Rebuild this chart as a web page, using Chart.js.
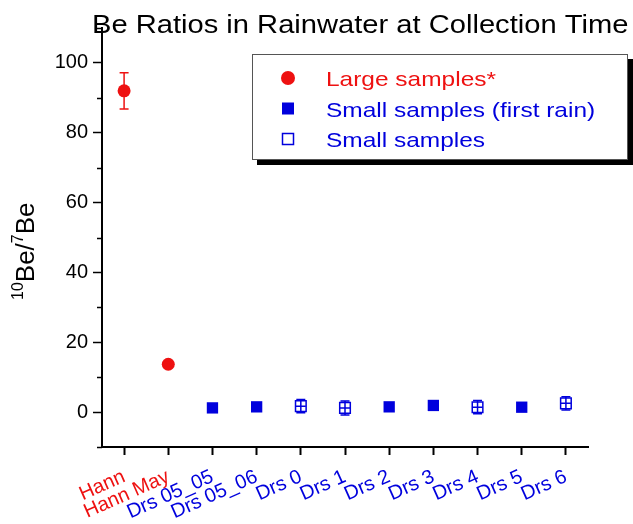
<!DOCTYPE html>
<html>
<head>
<meta charset="utf-8">
<script src="https://cdn.jsdelivr.net/npm/chart.js@4/dist/chart.umd.min.js"></script>
<style>
html, body { margin: 0; padding: 0; background: #fff; }
.caixa { width: 633px; height: 524px; }
</style>
</head>
<body>
<div class="caixa"><canvas id="grafico"></canvas></div>
<script>
// dados
const categorias = ['Hann', 'Hann May', 'Drs 05_05', 'Drs 05_06', 'Drs 0', 'Drs 1', 'Drs 2', 'Drs 3', 'Drs 4', 'Drs 5', 'Drs 6'];
const coresCategorias = ['#ee1111', '#ee1111', '#0000dd', '#0000dd', '#0000dd', '#0000dd', '#0000dd', '#0000dd', '#0000dd', '#0000dd', '#0000dd'];
const grandes = [92, 13.7, null, null, null, null, null, null, null, null, null];
const grandesErro = [5.2, 0.5, null, null, null, null, null, null, null, null, null];
const primeiraChuva = [null, null, 1.2, 1.5, null, null, 1.5, 1.9, null, 1.4, null];
const pequenas = [null, null, null, null, 1.7, 1.2, null, null, 1.4, null, 2.5];
const pequenasErro = [null, null, null, null, 1.9, 2.0, null, null, 1.9, null, 1.9];
const rotulosY = [0, 20, 40, 60, 80, 100];
const titulo = 'Be Ratios in Rainwater at Collection Time';

const VERMELHO = '#ee1111';
const AZUL = '#0000dd';
const FONTE = 'Arial, "Liberation Sans", sans-serif';
const ESTICA = 1.165;

Chart.defaults.font.family = FONTE;
Chart.defaults.color = '#000';

function textoEsticado(ctx, txt, x, y, tamanho, cor) {
    ctx.save();
    ctx.font = tamanho + 'px ' + FONTE;
    ctx.fillStyle = cor;
    ctx.textAlign = 'left';
    ctx.textBaseline = 'alphabetic';
    ctx.translate(x, y);
    ctx.scale(ESTICA, 1);
    ctx.fillText(txt, 0, 0);
    ctx.restore();
}

function marcador(ctx, estilo, x, y, cor, fundo) {
    ctx.save();
    ctx.fillStyle = fundo;
    ctx.strokeStyle = cor;
    ctx.lineWidth = 1.5;
    if (estilo == 'circle') {
        ctx.beginPath();
        ctx.arc(x, y, 7, 0, Math.PI * 2);
        ctx.fill();
    } else {
        ctx.fillRect(x - 6, y - 6, 12, 12);
        if (fundo == '#fff') ctx.strokeRect(x - 5.5, y - 5.5, 11, 11);
    }
    ctx.restore();
}

const extras = {
    id: 'extras',
    afterDatasetsDraw(chart) {
        const ctx = chart.ctx;
        const ex = chart.scales.x, ey = chart.scales.y;
        chart.data.datasets.forEach(ds => {
            if (!ds.erros) return;
            ds.data.forEach((v, i) => {
                if (v == null || ds.erros[i] == null) return;
                const px = ex.getPixelForValue(i);
                const top = ey.getPixelForValue(v + ds.erros[i]);
                const bot = ey.getPixelForValue(v - ds.erros[i]);
                ctx.save();
                ctx.strokeStyle = ds.borderColor;
                ctx.lineWidth = 1.5;
                ctx.beginPath();
                ctx.moveTo(px, top); ctx.lineTo(px, bot);
                ctx.moveTo(px - 4.5, top); ctx.lineTo(px + 4.5, top);
                ctx.moveTo(px - 4.5, bot); ctx.lineTo(px + 4.5, bot);
                if (ds.cruz) {
                    const py = ey.getPixelForValue(v);
                    ctx.moveTo(px - 5, py); ctx.lineTo(px + 5, py);
                }
                ctx.stroke();
                ctx.restore();
            });
        });
    },
    afterDraw(chart) {
        const ctx = chart.ctx;
        const area = chart.chartArea;
        const ey = chart.scales.y;

        // ticks menores do eixo y
        ctx.save();
        ctx.strokeStyle = '#000';
        ctx.lineWidth = 1.5;
        ey.ticks.forEach(t => {
            if (rotulosY.includes(t.value)) return;
            const py = Math.round(ey.getPixelForValue(t.value)) + 0.5;
            ctx.beginPath();
            ctx.moveTo(area.left - 5, py);
            ctx.lineTo(area.left, py);
            ctx.stroke();
        });
        ctx.restore();

        // titulo
        textoEsticado(ctx, titulo, area.left - 10, 33, 25, '#000');

        // titulo do eixo y com sobrescritos
        ctx.save();
        ctx.translate(34, 300);
        ctx.rotate(-Math.PI / 2);
        ctx.fillStyle = '#000';
        ctx.textBaseline = 'alphabetic';
        ctx.textAlign = 'left';
        var partes = [['10', 16, -11], ['Be/', 26, 0], ['7', 16, -11], ['Be', 26, 0]];
        var cx = 0;
        partes.forEach(p => {
            ctx.font = p[1] + 'px ' + FONTE;
            ctx.fillText(p[0], cx, p[2]);
            cx += ctx.measureText(p[0]).width;
        });
        ctx.restore();

        // legenda com sombra
        const lx = area.left + 150, ly = area.top + 26, lw = 376, lh = 106;
        ctx.save();
        ctx.fillStyle = '#000';
        ctx.fillRect(lx + 5, ly + 5, lw, lh);
        ctx.fillStyle = '#fff';
        ctx.fillRect(lx, ly, lw, lh);
        ctx.strokeStyle = '#555';
        ctx.lineWidth = 1;
        ctx.strokeRect(lx + 0.5, ly + 0.5, lw - 1, lh - 1);
        ctx.restore();
        chart.data.datasets.forEach((ds, k) => {
            const base = ly + 32 + k * 30.5;
            marcador(ctx, ds.pointStyle, lx + 36, base - 8, ds.borderColor, ds.backgroundColor);
            textoEsticado(ctx, ds.label, lx + 74, base, 21, ds.borderColor);
        });
    }
};

new Chart(document.getElementById('grafico'), {
    type: 'line',
    data: {
        labels: categorias,
        datasets: [
            {
                label: 'Large samples*',
                data: grandes,
                erros: grandesErro,
                showLine: false,
                pointStyle: 'circle',
                pointRadius: 6.5,
                pointHoverRadius: 6.5,
                borderColor: VERMELHO,
                backgroundColor: VERMELHO,
                pointBorderWidth: 0
            },
            {
                label: 'Small samples (first rain)',
                data: primeiraChuva,
                showLine: false,
                pointStyle: 'rect',
                pointRadius: 8,
                pointHoverRadius: 8,
                borderColor: AZUL,
                backgroundColor: AZUL,
                pointBorderWidth: 0
            },
            {
                label: 'Small samples',
                data: pequenas,
                erros: pequenasErro,
                cruz: true,
                showLine: false,
                pointStyle: 'rect',
                pointRadius: 7.5,
                pointHoverRadius: 7.5,
                borderColor: AZUL,
                backgroundColor: '#fff',
                pointBorderWidth: 1.5
            }
        ]
    },
    plugins: [extras],
    options: {
        responsive: true,
        maintainAspectRatio: false,
        animation: false,
        layout: { padding: { left: 0, right: 45, top: 28, bottom: 0 } },
        plugins: {
            legend: { display: false },
            tooltip: { enabled: false }
        },
        scales: {
            x: {
                type: 'category',
                offset: true,
                afterFit: s => { s.height = 77; },
                border: { display: true, color: '#000', width: 2 },
                grid: { display: true, drawOnChartArea: false, drawTicks: true, tickLength: 8, tickColor: '#000', tickWidth: 2, offset: false },
                ticks: {
                    autoSkip: false,
                    minRotation: 24,
                    maxRotation: 24,
                    padding: 10,
                    font: { size: 20 },
                    color: ctx => coresCategorias[ctx.index]
                }
            },
            y: {
                type: 'linear',
                min: -10,
                max: 110,
                afterFit: s => { s.width = 102; },
                border: { display: true, color: '#000', width: 2 },
                grid: {
                    display: true, drawOnChartArea: false, drawTicks: true, tickLength: 9, tickWidth: 1.5,
                    tickColor: ctx => rotulosY.includes(ctx.tick.value) ? '#000' : 'rgba(0,0,0,0)'
                },
                ticks: {
                    stepSize: 10,
                    padding: 5,
                    font: { size: 20 },
                    callback: v => rotulosY.includes(v) ? v : ''
                }
            }
        }
    }
});
</script>
</body>
</html>
